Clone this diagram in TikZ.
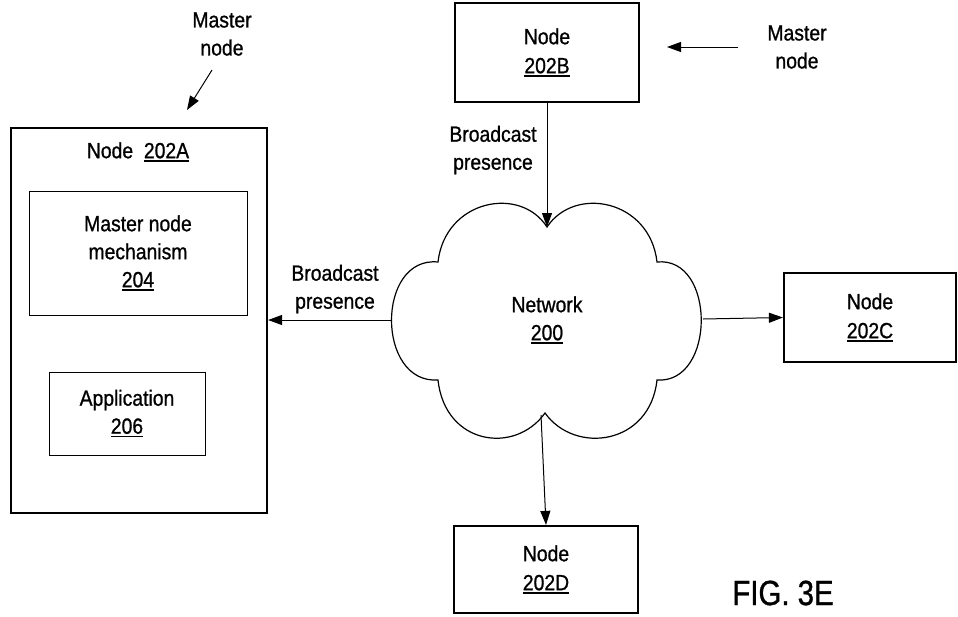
\documentclass[tikz,border=0pt]{standalone}
\usepackage{fontspec}
\setmainfont{Liberation Sans}[FakeStretch=0.88,FakeBold=0.9]
\newfontfamily\figfont{Liberation Sans}[FakeStretch=0.84,FakeBold=0.9]
\usetikzlibrary{arrows.meta}
\newcommand\uln[1]{\setbox0\hbox{#1}\rlap{\rule[-3.5pt]{\wd0}{1.4pt}}\box0}
\tikzset{
  txt/.style={align=center, font=\fontsize{22}{28}\selectfont, inner sep=0pt},
  bigbox/.style={draw, line width=2.2pt, inner sep=0pt, align=center, font=\fontsize{22}{29}\selectfont},
  smallbox/.style={draw, line width=1pt, inner sep=0pt, align=center, font=\fontsize{22}{28}\selectfont},
  conn/.style={line width=1pt, -{Triangle[length=14pt,width=10pt]}},
  cloudline/.style={line width=1.2pt}
}
\begin{document}
\begin{tikzpicture}[x=1pt,y=-1pt]
\useasboundingbox (0,0) rectangle (958,616);
% boxes
\node[bigbox, minimum width=256pt, minimum height=385pt] (A) at (139,320.5) {};
\node[txt] (Atitle) at (138,152) {Node~~\uln{202A}};
\node[smallbox, minimum width=218pt, minimum height=124pt] (M) at (138,253) {Master node\\mechanism\\\uln{204}};
\node[smallbox, minimum width=156pt, minimum height=83pt] (App) at (127,413.5) {Application\\\uln{206}};
\node[bigbox, minimum width=184pt, minimum height=99pt] (B) at (547,52.5) {Node\\\uln{202B}};
\node[bigbox, minimum width=172pt, minimum height=89pt] (C) at (870,317.5) {Node\\\uln{202C}};
\node[bigbox, minimum width=184pt, minimum height=87pt] (D) at (546,569.5) {Node\\\uln{202D}};
% cloud
\coordinate (ct) at (547,227);
\coordinate (nr1) at (657,262);
\coordinate (nr2) at (657,380);
\coordinate (cb) at (545,413);
\coordinate (nl2) at (438,380);
\coordinate (nl1) at (438,262);
\draw[cloudline] (nl1) .. controls (445,200) and (520,185) .. (ct)
  .. controls (575,185) and (650,200) .. (nr1)
  .. controls (716,256) and (716,384) .. (nr2)
  .. controls (650,445) and (575,455) .. (cb)
  .. controls (515,455) and (445,445) .. (nl2)
  .. controls (376,384) and (376,256) .. (nl1) -- cycle;
\node[txt] (net) at (547,320) {Network\\\uln{200}};
\coordinate (cL) at (392,320);
\coordinate (cR) at (703,319);
\coordinate (cB) at (541,415);
% labels
\node[txt] (ml) at (222,34) {Master\\node};
\node[txt] (mr) at (797,47) {Master\\node};
\node[txt] (bl) at (335,289) {Broadcast\\presence};
\node[txt] (bt) at (493,150) {Broadcast\\presence};
\node[inner sep=0pt, font=\figfont\fontsize{35}{38}\selectfont] (fig) at (783,593) {FIG. 3E};
% connectors
\coordinate (mlS) at (212,70);
\coordinate (mlE) at (187,110);
\coordinate (mrS) at (738,47);
\coordinate (mrE) at (667,47);
\draw[conn] (mlS) -- (mlE);
\draw[conn] (mrS) -- (mrE);
\draw[conn] (B.south) -- (ct);
\draw[conn] (cL) -- (A.east |- cL);
\draw[conn] (cR) -- (C.west);
\draw[conn] (cB) -- (D.north);
\end{tikzpicture}
\end{document}
